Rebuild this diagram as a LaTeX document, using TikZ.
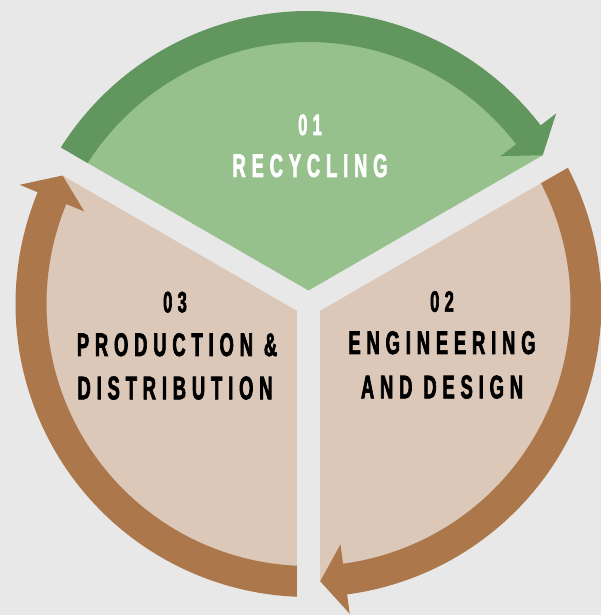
\documentclass[tikz,border=0pt]{standalone}
\usepackage{fontspec}
\newfontfamily\bebas[FakeStretch=0.56,LetterSpace=18,FakeBold=2]{Liberation Sans Bold}
\definecolor{bgc}{HTML}{E8E8E8}
\definecolor{gdark}{HTML}{62965F}
\definecolor{glight}{HTML}{96C08C}
\definecolor{bdark}{HTML}{AC784B}
\definecolor{blight}{HTML}{DCC8B9}
\tikzset{
  numtext/.style={font=\bebas\fontsize{29.5}{29.5}\selectfont, anchor=base, inner sep=0pt},
  maintext/.style={font=\bebas\fontsize{32.7}{32.7}\selectfont, anchor=base, inner sep=0pt},
}
\newcommand\mysector[4]{%
  \fill[#3] (#1/2+#2/2:\dV) -- (#1+\aM:\Rm) arc[start angle=#1+\aM, end angle=#2-\aM, radius=\Rm] -- cycle;
  \fill[#4] (#2-\aO:\Ro) arc[start angle=#2-\aO, end angle=#1+\aM+\hL, radius=\Ro]
     -- (#1+\aM+\hL:\Rw) -- (#1+\aM:\Rm) -- (#1+\aM+\hL:\Rv)
     -- (#1+\aM+\hL:\Ri) arc[start angle=#1+\aM+\hL, end angle=#2-\aI, radius=\Ri] -- cycle;
}
\begin{document}
\begin{tikzpicture}[x=1pt,y=1pt]
\useasboundingbox (0,0) rectangle (601,615);
\fill[bgc] (0,0) rectangle (601,615);
\clip (0,0) rectangle (601,615);
\pgfmathsetmacro\w{11.7}
\pgfmathsetmacro\Ro{293}
\pgfmathsetmacro\Ri{262}
\pgfmathsetmacro\Rm{277.5}
\pgfmathsetmacro\Rw{312.5}
\pgfmathsetmacro\Rv{242.5}
\pgfmathsetmacro\hL{5.16}
\pgfmathsetmacro\dV{\w/sin(60)}
\pgfmathsetmacro\aO{asin(\w/\Ro)}
\pgfmathsetmacro\aI{asin(\w/\Ri)}
\pgfmathsetmacro\aM{asin(\w/\Rm)}
\begin{scope}[shift={(308.5,311)}]
  \mysector{30}{150}{glight}{gdark}
  \mysector{-90}{30}{blight}{bdark}
  \mysector{150}{270}{blight}{bdark}
\end{scope}
\node[numtext, text=white] (n1) at (310,480) {01};
\node[maintext, text=white] (t1) at (310,438) {RECYCLING};
\node[numtext] (n2) at (442,303.3) {02};
\node[maintext] (t2a) at (442,261) {ENGINEERING};
\node[maintext] (t2b) at (442,216.7) {AND DESIGN};
\node[numtext] (n3) at (175,302.7) {03};
\node[maintext] (t3a) at (177,259) {PRODUCTION \&};
\node[maintext] (t3b) at (175,215.7) {DISTRIBUTION};
\end{tikzpicture}
\end{document}
